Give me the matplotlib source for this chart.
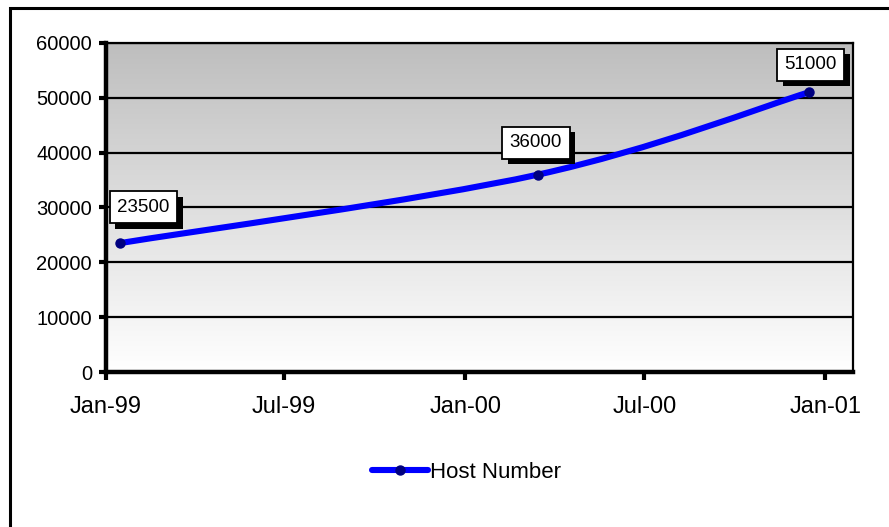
import datetime as dt
import numpy as np
import matplotlib
matplotlib.use("Agg")
import matplotlib.pyplot as plt
import matplotlib.dates as mdates
import matplotlib.patheffects as pe
from matplotlib.path import Path
from matplotlib.patches import PathPatch, Rectangle
from matplotlib.lines import Line2D

plt.rcParams['font.family'] = ['Liberation Sans', 'DejaVu Sans']

# host counts
dates = [dt.date(1999, 1, 15), dt.date(2000, 3, 15), dt.date(2000, 12, 15)]
hosts = [23500, 36000, 51000]
series_name = "Host Number"
y_ticks = [0, 10000, 20000, 30000, 40000, 50000, 60000]
x_ticks = [dt.date(1999, 1, 1), dt.date(1999, 7, 1), dt.date(2000, 1, 1),
           dt.date(2000, 7, 1), dt.date(2001, 1, 1)]

# label offsets (points) for each data label
label_offsets = [(17, 26), (-1.5, 23), (1.5, 20)]

LINE_BLUE = "#0000FF"
NAVY = "#000080"

fig = plt.figure(figsize=(8.89, 5.27), dpi=100)
ax = fig.add_axes([106 / 889, 1 - 372 / 527, (853 - 106) / 889, (372 - 43) / 527])

# outer chart frame, clipped at right/bottom
fig.patches.append(Rectangle((10 / 889, -0.2), 1.2, 1.2 - 8 / 527,
                             transform=fig.transFigure, fill=False,
                             edgecolor="black", linewidth=2.2, zorder=0))

# grey-to-white gradient plot area
grad = np.linspace(1.0, 0.0, 256).reshape(-1, 1)
top = np.array([0.745, 0.745, 0.745])
bottom = np.array([1.0, 1.0, 1.0])
img = top * grad[..., None] + bottom * (1 - grad[..., None])
ax.imshow(img.reshape(256, 1, 3), extent=[0, 1, 0, 1], transform=ax.transAxes,
          aspect="auto", zorder=0)

x = mdates.date2num(dates)
y = np.array(hosts, dtype=float)

# smoothed line as cubic bezier segments through the data points
pts = np.column_stack([x, y])
verts = [pts[0]]
codes = [Path.MOVETO]
for i in range(len(pts) - 1):
    p0 = pts[i - 1] if i > 0 else pts[i]
    p1 = pts[i]
    p2 = pts[i + 1]
    p3 = pts[i + 2] if i + 2 < len(pts) else pts[i + 1]
    c1 = p1 + (p2 - p0) / 6
    c2 = p2 - (p3 - p1) / 6
    verts += [c1, c2, p2]
    codes += [Path.CURVE4] * 3
ax.add_patch(PathPatch(Path(verts, codes), facecolor="none", edgecolor=LINE_BLUE,
                       linewidth=4.4, capstyle="round", zorder=3))
ax.plot(x, y, linestyle="none", marker="o", markersize=6.5, color=NAVY, zorder=4)

# data labels, white boxes with a solid drop shadow
for xi, yi, (dx, dy) in zip(x, hosts, label_offsets):
    ann = ax.annotate(str(yi), (xi, yi), xytext=(dx, dy),
                      textcoords="offset points", ha="center", va="center",
                      fontsize=13.5, color="black", zorder=6,
                      bbox=dict(boxstyle="square,pad=0.4", facecolor="white",
                                edgecolor="black", linewidth=1.3))
    ann.get_bbox_patch().set_path_effects([
        pe.SimplePatchShadow(offset=(4, -4), shadow_rgbFace="black", alpha=1.0),
        pe.Normal()])

ax.set_xlim(mdates.date2num(dt.date(1999, 1, 1)), mdates.date2num(dt.date(2001, 1, 29)))
ax.set_ylim(0, 60000)
ax.set_yticks(y_ticks)
ax.set_yticklabels([str(v) for v in y_ticks], fontsize=14.5)
ax.set_xticks(mdates.date2num(x_ticks))
ax.set_xticklabels([d.strftime("%b-%y") for d in x_ticks], fontsize=17)

ax.grid(axis="y", color="black", linewidth=1.6, zorder=1)
ax.set_axisbelow(True)
for side in ("top", "right"):
    ax.spines[side].set_linewidth(1.6)
for side in ("left", "bottom"):
    ax.spines[side].set_linewidth(3.2)
    ax.spines[side].set_zorder(7)
ax.tick_params(axis="y", direction="out", length=5, width=3, pad=5)
ax.tick_params(axis="x", direction="out", length=6, width=3, pad=11)

handle = Line2D([], [], color=LINE_BLUE, linewidth=4.4, marker="o",
                markersize=6.5, markerfacecolor=NAVY, markeredgecolor=NAVY,
                solid_capstyle="round")
fig.legend([handle], [series_name], loc="center left",
           bbox_to_anchor=(372 / 889, 1 - 472 / 527), frameon=False,
           fontsize=16, handlelength=2.5, handletextpad=0.1,
           borderpad=0, borderaxespad=0)

fig.savefig("out.png", dpi=100)
